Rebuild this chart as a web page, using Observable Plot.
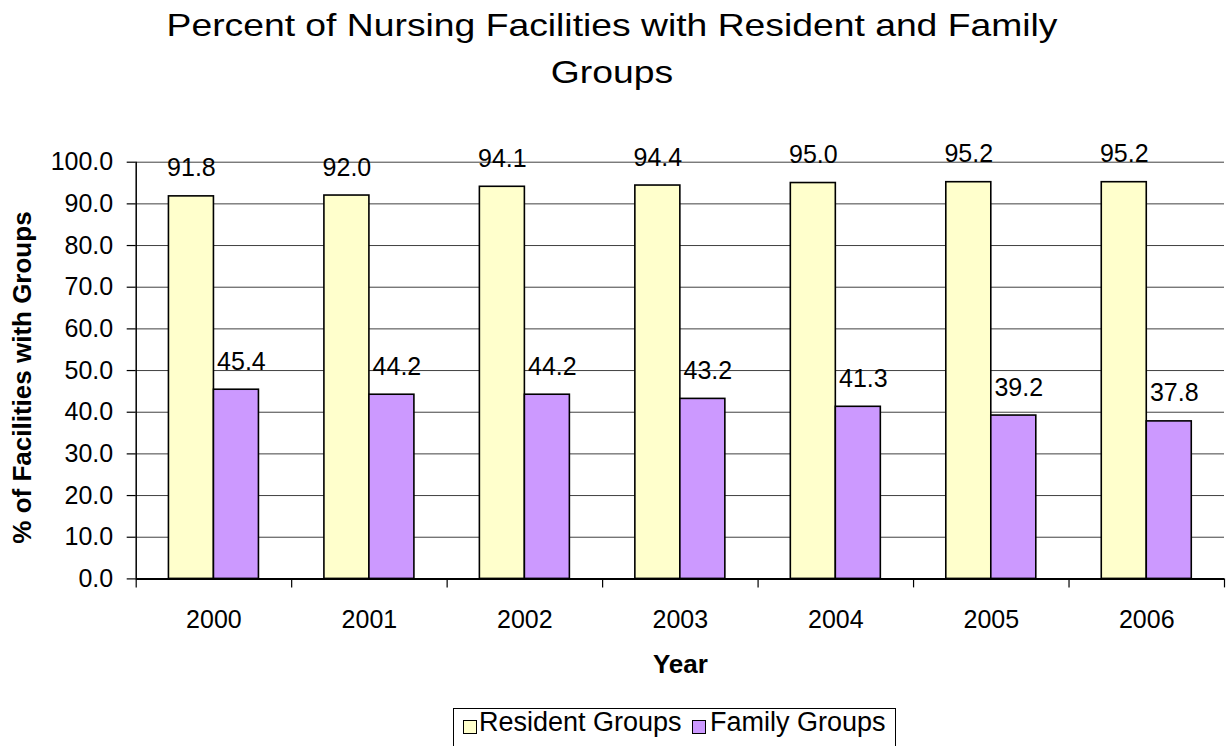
<!DOCTYPE html>
<html>
<head>
<meta charset="utf-8">
<script src="https://cdn.jsdelivr.net/npm/d3@7"></script>
<script src="https://cdn.jsdelivr.net/npm/@observablehq/plot@0.6"></script>
<style>
  html, body { margin: 0; padding: 0; background: #fff; }
  body { width: 1232px; height: 746px; position: relative; overflow: hidden; font-family: "Liberation Sans", Arial, sans-serif; color: #000; }
  #title { position: absolute; left: 0; top: 2px; width: 1224px; text-align: center; font-size: 32px; line-height: 47px; transform: scaleX(1.165); transform-origin: 612px 0; }
  #chart { position: absolute; left: 0; top: 100px; }
  #legend { position: absolute; left: 453px; top: 708px; width: 443px; height: 44px; border: 1px solid #000; box-sizing: border-box; }
  #legend .sw { position: absolute; top: 11px; width: 14px; height: 14px; border: 1.5px solid #000; box-sizing: border-box; }
  #legend .lb { position: absolute; top: 0px; font-size: 27px; line-height: 27px; white-space: nowrap; }
</style>
</head>
<body>
<div id="title"></div>
<div id="chart"></div>
<div id="legend"></div>
<script>
const titleLines = ["Percent of Nursing Facilities with Resident and Family", "Groups"];
const years = [2000, 2001, 2002, 2003, 2004, 2005, 2006];
const residentGroups = [91.8, 92.0, 94.1, 94.4, 95.0, 95.2, 95.2];
const familyGroups = [45.4, 44.2, 44.2, 43.2, 41.3, 39.2, 37.8];
const seriesNames = ["Resident Groups", "Family Groups"];
const seriesColors = ["#FFFFCC", "#CC99FF"];
const yTicks = [0, 10, 20, 30, 40, 50, 60, 70, 80, 90, 100];
const xTitle = "Year";
const yTitle = "% of Facilities with Groups";

document.getElementById("title").innerHTML = titleLines.join("<br>");

const resident = years.map((year, i) => ({year, value: residentGroups[i]}));
const family = years.map((year, i) => ({year, value: familyGroups[i]}));
const boundaries = years.map(y => y - 0.5).concat([years[years.length - 1] + 0.5]);
const fmt = d3.format(".1f");

const W = 1232, H = 600;
const mL = 135.7, mR = 8, mT = 61.7, mB = 121.6;
const step = (W - mL - mR) / years.length;
const barW = 45;
const gap = (step - 2 * barW) / 2;

const chart = Plot.plot({
  width: W,
  height: H,
  marginTop: mT,
  marginBottom: mB,
  marginLeft: mL,
  marginRight: mR,
  style: {fontFamily: "'Liberation Sans', Arial, sans-serif", fontSize: "25px", color: "#000", background: "#fff"},
  x: {type: "linear", domain: [boundaries[0], boundaries[boundaries.length - 1]]},
  y: {domain: [0, 100]},
  marks: [
    Plot.gridY(yTicks, {stroke: "#000", strokeOpacity: 0.75, strokeWidth: 1}),
    Plot.rectY(resident, {x1: d => d.year - 0.5, x2: d => d.year + 0.5, y1: 0, y2: "value", fill: seriesColors[0], stroke: "#000", strokeWidth: 1.6, insetLeft: gap, insetRight: step - gap - barW}),
    Plot.rectY(family, {x1: d => d.year - 0.5, x2: d => d.year + 0.5, y1: 0, y2: "value", fill: seriesColors[1], stroke: "#000", strokeWidth: 1.6, insetLeft: gap + barW, insetRight: gap}),
    Plot.ruleY([0], {stroke: "#000", strokeWidth: 2}),
    Plot.ruleX([boundaries[0]], {y1: 0, y2: 100, stroke: "#000", strokeWidth: 1.5}),
    Plot.axisY(yTicks, {tickSize: 9, tickPadding: 14, tickFormat: fmt, label: null, fontSize: 25, strokeWidth: 1.2}),
    Plot.axisX(boundaries, {tickSize: 9, tickFormat: () => "", label: null, strokeWidth: 1.2}),
    Plot.axisX(years, {tickSize: 0, tickPadding: 31, tickFormat: d => String(d), label: null, fontSize: 25}),
    Plot.text(resident, {x: "year", y: "value", text: d => fmt(d.value), dx: -(step / 2 - gap - barW / 2), dy: -20, lineAnchor: "bottom", fontSize: 25}),
    Plot.text(family, {x: "year", y: "value", text: d => fmt(d.value), dx: (step / 2 - gap - barW / 2) + 5, dy: -20, lineAnchor: "bottom", fontSize: 25}),
    Plot.text([xTitle], {text: d => d, frameAnchor: "bottom", dy: 94.3, lineAnchor: "bottom", fontWeight: "bold", fontSize: 26}),
    Plot.text([yTitle], {text: d => d, frameAnchor: "left", textAnchor: "middle", rotate: -90, dx: -114, dy: 7, fontWeight: "bold", fontSize: 26})
  ]
});
document.getElementById("chart").appendChild(chart);

// legend
const legend = document.getElementById("legend");
const swLeft = [8.5, 237.5];
const lbLeft = [25, 256];
seriesNames.forEach((name, i) => {
  const sw = document.createElement("div");
  sw.className = "sw";
  sw.style.left = swLeft[i] + "px";
  sw.style.background = seriesColors[i];
  legend.appendChild(sw);
  const lb = document.createElement("span");
  lb.className = "lb";
  lb.style.left = lbLeft[i] + "px";
  lb.textContent = name;
  legend.appendChild(lb);
});
</script>
</body>
</html>
